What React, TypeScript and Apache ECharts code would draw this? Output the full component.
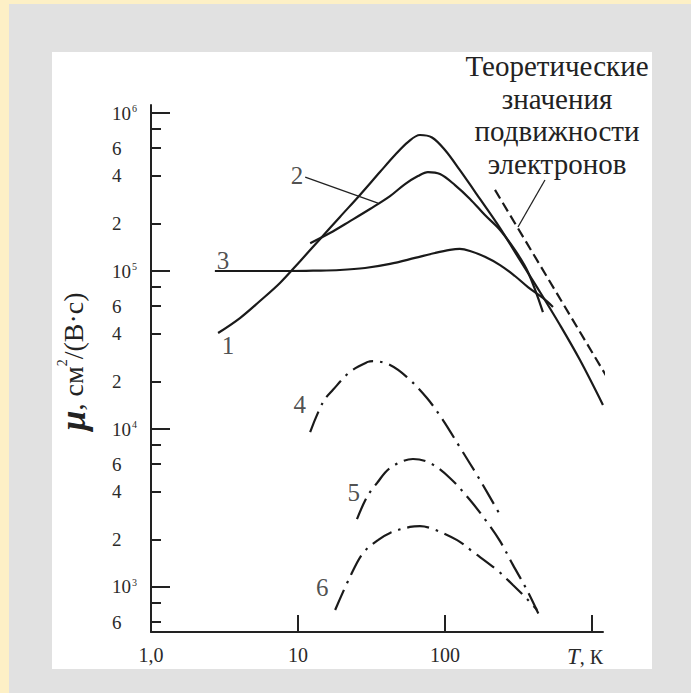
import React, { useEffect, useRef } from 'react';
import * as echarts from 'echarts';

// ---- data (T in K, mobility in cm^2/(V*s)) ----
const curve1T = [2.86, 4.03, 5.51, 7.54, 10.3, 14.1, 19.3, 26.4, 36.1, 45.7, 56.0, 67.6, 81.6, 100, 126, 173, 237, 324, 443, 606, 829, 1188];
const curve1Mu = [40500, 50400, 64600, 84000, 115000, 159000, 220000, 303000, 423000, 542000, 655000, 726000, 700000, 583000, 436000, 286000, 187000, 117000, 73600, 45500, 27300, 14200];

const curve2T = [12.1, 16.5, 22.6, 30.9, 42.3, 53.5, 65.5, 76.6, 92.5, 117, 148, 187, 237, 299, 367, 464];
const curve2Mu = [150000, 174000, 207000, 247000, 298000, 355000, 399000, 423000, 411000, 350000, 286000, 226000, 182000, 136000, 98600, 55000];

const curve3T = [2.72, 4.03, 5.96, 8.82, 13.0, 19.3, 28.6, 42.3, 62.5, 85.5, 108, 126, 148, 187, 237, 299, 367, 464, 543];
const curve3Mu = [100000, 100000, 100000, 100000, 100500, 101500, 104500, 111000, 121000, 130000, 136000, 138000, 134000, 123000, 109000, 93000, 79200, 67500, 59200];

const theoryT = [219, 1265];
const theoryMu = [326000, 21300];

const curve4T = [12.1, 14.8, 17.3, 22.6, 29.9, 32.4, 42.3, 55.1, 75.4, 96.9, 126, 173, 237];
const curve4Mu = [9570, 14800, 17700, 23000, 26600, 26900, 25400, 21300, 15700, 11400, 7690, 4760, 2860];

const curve5T = [25.2, 29.5, 34.5, 42.3, 60.6, 79.1, 108, 148, 193, 237, 290, 361, 443];
const curve5Mu = [2690, 3720, 4550, 5660, 6460, 6090, 4900, 3550, 2580, 1950, 1380, 957, 646];

const curve6T = [17.9, 22.6, 27.7, 35, 42.3, 57.8, 67.6, 82.8, 121, 155, 226, 290, 367, 423];
const curve6Mu = [715, 1160, 1640, 1980, 2200, 2400, 2430, 2330, 1980, 1670, 1280, 1030, 828, 715];

// leader lines
const leader2T = [11.2, 35.0];
const leader2Mu = [393000, 269000];
const leaderTheoryT = [479, 314];
const leaderTheoryMu = [377000, 190000];

// curve number labels
const curveLabels = ['1', '2', '3', '4', '5', '6'];
const curveLabelT = [3.34, 9.85, 3.09, 10.3, 24.0, 14.6];
const curveLabelMu = [34000, 405000, 117000, 14200, 3990, 986];

const theoryText = ['Теоретические', 'значения', 'подвижности', 'электронов'];

// axes
const xMinT = 1;
const xMaxT = 1189;
const yMinMu = 519;
const yMaxMu = 1124000;
const xTickValues = [10, 100, 1000];
const xLabelValues = [1, 10, 100, 1000];
const xTickLabels = ['1,0', '10', '100', '{it|T}, К{pad| }'];
const yMajorValues = [1000, 10000, 100000, 1000000];
const yMinorValues = [600, 800, 2000, 4000, 6000, 8000, 20000, 40000, 60000, 80000, 200000, 400000, 600000, 800000];
const yLabelValues = [600, 1000, 2000, 4000, 6000, 10000, 20000, 40000, 60000, 100000, 200000, 400000, 600000, 1000000];

const FONT = "Liberation Serif, Times New Roman, serif";
const INK = '#1a1a1a';
const lg = (v: number) => Math.log10(v);
const pts = (ts: number[], ms: number[]) => ts.map((t, i) => [lg(t), lg(ms[i])]);

function buildOption() {
  const solid = { color: INK, width: 2.2 };
  const dashDot = { color: INK, width: 2.2, type: [22, 7, 2.5, 7] as any };
  const lineSeries = (name: string, data: number[][], style: any, extra: any = {}) => ({
    name,
    type: 'line',
    data,
    showSymbol: false,
    symbol: 'none',
    smooth: 0.35,
    lineStyle: style,
    silent: true,
    z: 3,
    ...extra,
  });

  return {
    animation: false,
    backgroundColor: '#fdf0c6',
    graphic: {
      elements: [
        { type: 'rect', z: -20, shape: { x: 9, y: 4, width: 682, height: 689 }, style: { fill: '#e1e1e1' } },
        { type: 'rect', z: -18, shape: { x: 52, y: 52, width: 600, height: 617 }, style: { fill: '#ffffff' } },
        {
          type: 'text',
          z: 10,
          x: 557,
          y: 50,
          style: {
            text: theoryText.join('\n'),
            align: 'center',
            verticalAlign: 'top',
            fontSize: 29,
            lineHeight: 32.5,
            fontFamily: FONT,
            fill: '#222',
          },
        },
      ],
    },
    grid: { left: 151, top: 105, width: 452, height: 527, containLabel: false },
    xAxis: {
      type: 'value',
      min: lg(xMinT),
      max: lg(xMaxT),
      splitLine: { show: false },
      axisLine: { show: true, onZero: false, lineStyle: { color: '#222', width: 2 } },
      axisTick: { show: true, inside: true, length: 17, customValues: xTickValues.map(lg), lineStyle: { color: '#222', width: 2 } },
      axisLabel: {
        show: true,
        customValues: xLabelValues.map(lg),
        formatter: (v: number) => {
          const i = xLabelValues.findIndex((x) => Math.abs(lg(x) - v) < 1e-6);
          return i >= 0 ? xTickLabels[i] : '';
        },
        margin: 13,
        fontSize: 20,
        fontFamily: FONT,
        color: '#2a2a2a',
        rich: {
          it: { fontStyle: 'italic', fontSize: 23, fontFamily: FONT, color: '#2a2a2a' },
          pad: { width: 14, fontSize: 20 },
        },
      },
    },
    yAxis: [
      {
        type: 'value',
        min: lg(yMinMu),
        max: lg(yMaxMu),
        position: 'left',
        splitLine: { show: false },
        axisLine: { show: true, onZero: false, lineStyle: { color: '#222', width: 2 } },
        axisTick: { show: true, inside: true, length: 19, customValues: yMajorValues.map(lg), lineStyle: { color: '#222', width: 2 } },
        axisLabel: {
          show: true,
          customValues: yLabelValues.map(lg),
          align: 'left',
          margin: 39,
          fontSize: 19,
          fontFamily: FONT,
          color: '#2a2a2a',
          formatter: (v: number) => {
            const e = Math.round(v);
            if (Math.abs(v - e) < 1e-6) return `10{sup|${e}}`;
            return String(Math.round(Math.pow(10, v - Math.floor(v))));
          },
          rich: { sup: { fontSize: 10, verticalAlign: 'top', fontFamily: FONT, color: '#2a2a2a', padding: [0, 0, 8, 1] } },
        },
        name: '{mu|μ}, см{sup|2}/(В·с)',
        nameLocation: 'middle',
        nameRotate: 90,
        nameGap: 60,
        nameTextStyle: {
          fontSize: 28,
          fontFamily: FONT,
          color: '#222',
          padding: [0, 0, 0, 14],
          rich: {
            mu: { fontSize: 36, fontStyle: 'italic', fontWeight: 'bold', fontFamily: FONT, color: '#222' },
            sup: { fontSize: 14, verticalAlign: 'top', fontFamily: FONT, color: '#222', padding: [0, 0, 10, 0] },
          },
        },
      },
      {
        type: 'value',
        min: lg(yMinMu),
        max: lg(yMaxMu),
        position: 'left',
        offset: 0,
        splitLine: { show: false },
        axisLine: { show: false, onZero: false },
        axisTick: { show: true, inside: true, length: 10, customValues: yMinorValues.map(lg), lineStyle: { color: '#222', width: 2 } },
        axisLabel: { show: false },
      },
    ],
    series: [
      lineSeries('1', pts(curve1T, curve1Mu), solid),
      lineSeries('2', pts(curve2T, curve2Mu), solid),
      lineSeries('3', pts(curve3T, curve3Mu), solid),
      lineSeries('theory', pts(theoryT, theoryMu), { color: INK, width: 2.2, type: [10, 5] }, { smooth: false, clip: false }),
      lineSeries('4', pts(curve4T, curve4Mu), dashDot),
      lineSeries('5', pts(curve5T, curve5Mu), dashDot),
      lineSeries('6', pts(curve6T, curve6Mu), dashDot),
      lineSeries('leader2', pts(leader2T, leader2Mu), { color: '#222', width: 1.3 }, { smooth: false }),
      lineSeries('leaderTheory', pts(leaderTheoryT, leaderTheoryMu), { color: '#222', width: 1.3 }, { smooth: false }),
      {
        name: 'labels',
        type: 'scatter',
        silent: true,
        symbolSize: 1,
        itemStyle: { color: 'rgba(0,0,0,0)' },
        data: curveLabels.map((t, i) => [lg(curveLabelT[i]), lg(curveLabelMu[i]), t]),
        label: {
          show: true,
          position: 'inside',
          formatter: (p: any) => p.data[2],
          fontSize: 25,
          fontFamily: FONT,
          color: '#222',
        },
        z: 4,
      },
    ],
  };
}

export default function App() {
  const ref = useRef<HTMLDivElement>(null);
  useEffect(() => {
    const el = ref.current;
    if (!el) return;
    const chart = echarts.init(el, null, { renderer: 'svg' });
    chart.setOption(buildOption() as any);
    return () => chart.dispose();
  }, []);
  return <div ref={ref} style={{ position: 'absolute', left: 0, top: 0, width: 691, height: 693 }} />;
}
